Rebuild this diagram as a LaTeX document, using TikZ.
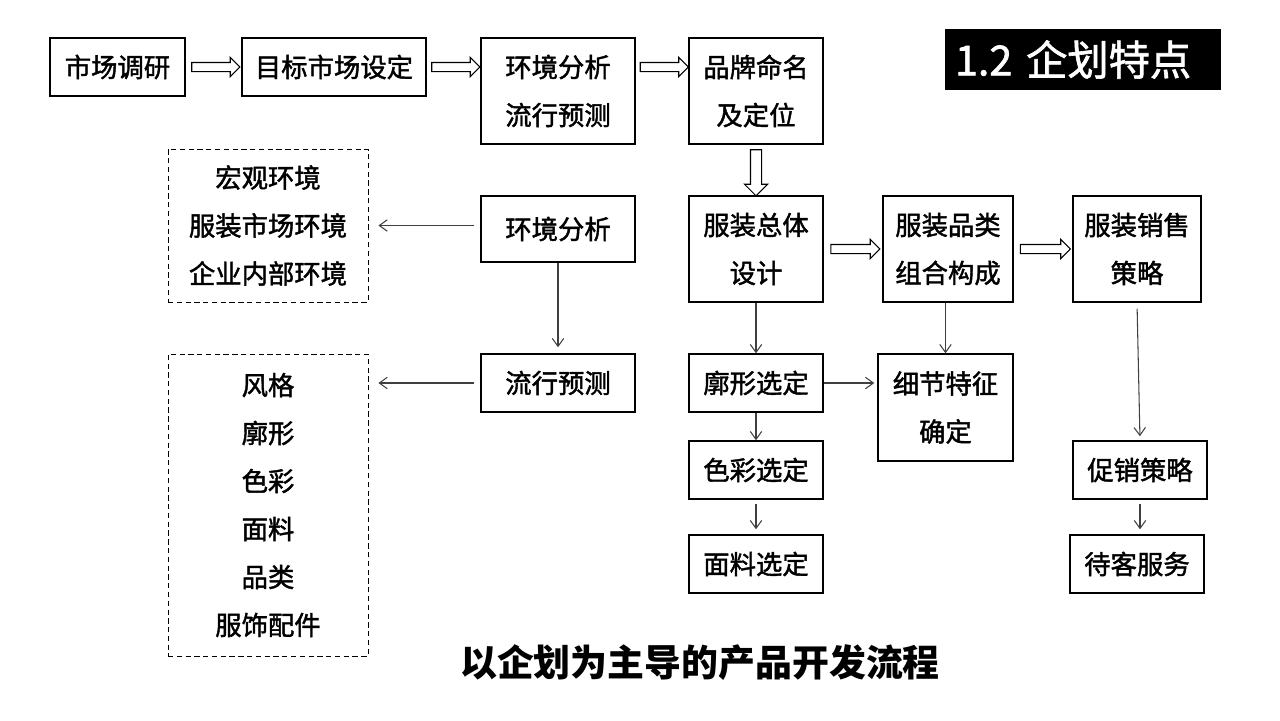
\documentclass[tikz,border=0pt]{standalone}
\usepackage{fontspec}
\setmainfont{Noto Sans CJK SC}
\newfontfamily\medfont{Noto Sans CJK SC}[FakeBold=1.6]
\usetikzlibrary{arrows.meta, shapes.arrows}
\newdimen\px \px=0.02cm
\newcommand{\boxfont}{\medfont\fontsize{15}{27.3}\selectfont}

\begin{document}
\begin{tikzpicture}[x=0.02cm, y=-0.02cm,
    stepbox/.style={draw, line width=0.85pt, inner sep=0pt, align=center, font=\boxfont},
    notebox/.style={draw, densely dashed, line width=0.5pt, inner sep=0pt, align=center, font=\boxfont},
    titlebox/.style={fill=black, text=white, inner xsep=10\px, inner ysep=0pt, text width=256\px, minimum height=61\px, align=left, font=\medfont\fontsize{23.5}{28}\selectfont},
    link/.style={draw=black!75, line width=0.6pt, -{Straight Barb[length=4.5pt, width=6.5pt]}},
    fatarrow/.style={single arrow, draw, line width=0.6pt, inner xsep=0pt, inner ysep=4\px, single arrow head extend=5\px}]
    \useasboundingbox (0,0) rectangle (1280,720);

    % Top row
    \node[stepbox, minimum width=135\px, minimum height=58\px] (survey) at (117.5,67) {市场调研};
    \node[stepbox, minimum width=184\px, minimum height=58\px] (target) at (334,67) {目标市场设定};
    \node[stepbox, minimum width=154\px, minimum height=106\px] (envtrend) at (558,91) {环境分析\\流行预测};
    \node[stepbox, minimum width=134\px, minimum height=106\px] (brand) at (756,91) {品牌命名\\及定位};
    \node[titlebox] (title) at (1083,59.5) {1.2 企划特点};

    % Analysis column
    \node[notebox, minimum width=200\px, minimum height=153\px] (macro) at (268,225.5) {宏观环境\\服装市场环境\\企业内部环境};
    \node[stepbox, minimum width=154\px, minimum height=66\px] (env) at (558,229) {环境分析};
    \node[stepbox, minimum width=154\px, minimum height=58\px] (trend) at (558,383) {流行预测};
    \node[notebox, minimum width=200\px, minimum height=302\px] (style) at (268,505) {风格\\廓形\\色彩\\面料\\品类\\服饰配件};

    % Design row
    \node[stepbox, minimum width=134\px, minimum height=106\px] (design) at (756,249) {服装总体\\设计};
    \node[stepbox, minimum width=130\px, minimum height=106\px] (category) at (948,249) {服装品类\\组合构成};
    \node[stepbox, minimum width=128\px, minimum height=106\px] (sales) at (1137,249) {服装销售\\策略};

    % Details
    \node[stepbox, minimum width=134\px, minimum height=58\px] (silhouette) at (756,383) {廓形选定};
    \node[stepbox, minimum width=135\px, minimum height=107\px] (detail) at (945.5,407.5) {细节特征\\确定};
    \node[stepbox, minimum width=134\px, minimum height=58\px] (colour) at (756,470) {色彩选定};
    \node[stepbox, minimum width=134\px, minimum height=58\px] (fabric) at (756,564) {面料选定};
    \node[stepbox, minimum width=134\px, minimum height=58\px] (promo) at (1140,470) {促销策略};
    \node[stepbox, minimum width=134\px, minimum height=58\px] (service) at (1137,564) {待客服务};

    \node[font=\bfseries\fontsize{21}{25}\selectfont] (caption) at (700,663) {以企划为主导的产品开发流程};

    % Hollow arrows
    \path (survey.east) -- node[fatarrow, minimum height=48\px] {} (target.west);
    \path (target.east) -- node[fatarrow, minimum height=48\px] {} (target.east -| envtrend.west);
    \path (envtrend.east |- target.east) -- node[fatarrow, minimum height=48\px] {} (brand.west |- target.east);
    \path (brand.south) -- node[fatarrow, rotate=-90, inner ysep=5\px, single arrow head extend=6\px, minimum height=46\px] {} (design.north);
    \path (design.east) -- node[fatarrow, minimum height=49\px] {} (category.west);
    \path (category.east) -- node[fatarrow, minimum height=50\px] {} (sales.west);

    % Thin arrows
    \draw[link, shorten <=6\px, shorten >=10\px] (env.west |- macro.east) -- (macro.east);
    \draw[link, shorten <=6\px, shorten >=10\px] (trend.west) -- (trend.west -| style.east);
    \draw[link, shorten >=6\px] (env.south) -- (trend.north);
    \draw[link] (design.south) -- (silhouette.north);
    \draw[link] (detail.north |- category.south) -- (detail.north);
    \draw[link, shorten >=3\px] (silhouette.east) -- (silhouette.east -| detail.west);
    \draw[link] (silhouette.south) -- (colour.north);
    \draw[link, shorten <=4\px, shorten >=5\px] (colour.south) -- (fabric.north);
    \draw[link, shorten <=6\px, shorten >=4\px] (sales.south) -- (promo.north);
    \draw[link, shorten <=4\px, shorten >=5\px] (promo.south) -- (promo.south |- service.north);
\end{tikzpicture}
\end{document}
